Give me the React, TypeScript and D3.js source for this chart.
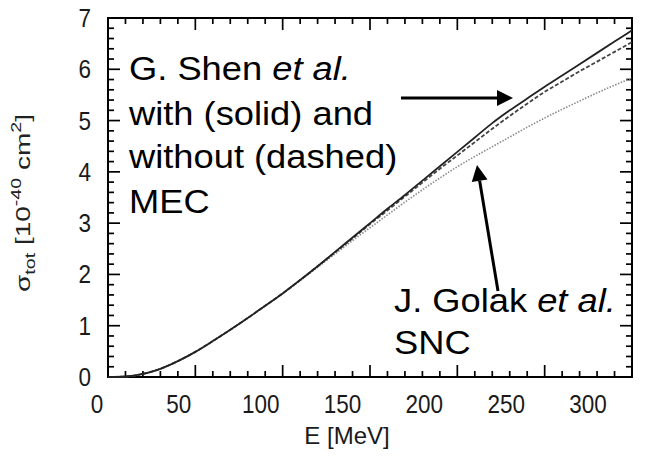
import React from "react";
import * as d3 from "d3";

const energies = [0,10,20,30,40,50,60,70,80,90,100,110,120,130,140,150,160,170,180,190,200,210,220,230,240,250,260,270,280,290,300];
const withMEC = [0,0.01,0.06,0.16,0.31,0.49,0.7,0.92,1.15,1.39,1.63,1.89,2.16,2.44,2.72,3.0,3.28,3.55,3.83,4.11,4.39,4.67,4.95,5.2,5.43,5.66,5.88,6.1,6.32,6.54,6.76];
const withoutMEC = [0,0.01,0.06,0.16,0.31,0.49,0.7,0.92,1.15,1.39,1.63,1.89,2.16,2.43,2.7,2.98,3.25,3.52,3.79,4.06,4.32,4.58,4.84,5.09,5.33,5.56,5.76,5.96,6.15,6.34,6.53];
const golakSNC = [0,0.01,0.06,0.16,0.31,0.49,0.7,0.92,1.15,1.39,1.63,1.88,2.14,2.4,2.66,2.91,3.16,3.41,3.65,3.88,4.1,4.3,4.49,4.68,4.87,5.05,5.22,5.38,5.54,5.69,5.83];

const xTickValues = [0,50,100,150,200,250,300];
const yTickValues = [0,1,2,3,4,5,6,7];

const W = 660, H = 458;
const L = 108, R = 632, T = 18, B = 377;
const FONT = "Liberation Sans, Arial, sans-serif";

export default function App() {
  const x = d3.scaleLinear().domain([0, 300]).range([L, R]);
  const xLab = d3.scaleLinear().domain([0, 300]).range([97, 588]);
  const y = d3.scaleLinear().domain([0, 7]).range([B, T]);

  const mk = (vals: number[]) =>
    d3.line<number>().x((_, i) => x(energies[i])).y((v) => y(v)).curve(d3.curveMonotoneX)(vals) || "";

  const xMinor = d3.range(0, 301, 10);
  const yMinor = d3.range(0, 36, 1).map((v) => v / 5);

  const arrowHead = (tail: number[], tip: number[], len: number, half: number) => {
    const dx = tip[0] - tail[0], dy = tip[1] - tail[1];
    const d = Math.hypot(dx, dy);
    const ux = dx / d, uy = dy / d;
    const bx = tip[0] - ux * len, by = tip[1] - uy * len;
    const px = -uy, py = ux;
    return {
      bx, by,
      pts: `${tip[0]},${tip[1]} ${bx + px * half},${by + py * half} ${bx - px * half},${by - py * half}`,
    };
  };
  const a1Tail = [401, 98], a1Tip = [513, 98];
  const a2Tail = [498, 291], a2Tip = [477, 165];
  const h1 = arrowHead(a1Tail, a1Tip, 16, 8);
  const h2 = arrowHead(a2Tail, a2Tip, 16, 8);

  const big = 33;
  const sx = 1.1;

  return (
    <svg width={W} height={H} style={{ position: "absolute", left: 0, top: 0 }}>
      <rect x={L} y={T} width={R - L} height={B - T} fill="none" stroke="#000" strokeWidth={2} />
      {xMinor.map((v) => {
        const len = v % 50 === 0 ? 12 : 6;
        return (
          <g key={"xt" + v}>
            <line x1={x(v)} x2={x(v)} y1={B} y2={B - len} stroke="#000" strokeWidth={1.7} />
            <line x1={x(v)} x2={x(v)} y1={T} y2={T + len} stroke="#000" strokeWidth={1.7} />
          </g>
        );
      })}
      {yMinor.map((v, i) => {
        const len = i % 5 === 0 ? 12 : 6;
        return (
          <g key={"yt" + i}>
            <line x1={L} x2={L + len} y1={y(v)} y2={y(v)} stroke="#000" strokeWidth={1.7} />
            <line x1={R} x2={R - len} y1={y(v)} y2={y(v)} stroke="#000" strokeWidth={1.7} />
          </g>
        );
      })}
      <path d={mk(golakSNC)} fill="none" stroke="#8a8a8a" strokeWidth={1.6} strokeDasharray="1.5,1.5" />
      <path d={mk(withoutMEC)} fill="none" stroke="#444444" strokeWidth={1.8} strokeDasharray="4,2" />
      <path d={mk(withMEC)} fill="none" stroke="#222222" strokeWidth={1.8} />
      {xTickValues.map((v) => (
        <g key={"xl" + v} transform={`translate(${xLab(v)},413) scale(0.9,1.05)`}>
          <text x={0} y={0} textAnchor="middle" fontSize={25} fill="#1a1a1a" fontFamily={FONT}>{v}</text>
        </g>
      ))}
      {yTickValues.map((v) => (
        <g key={"yl" + v} transform={`translate(91,${y(v) + 9}) scale(0.9,1.05)`}>
          <text x={0} y={0} textAnchor="end" fontSize={25} fill="#1a1a1a" fontFamily={FONT}>{v}</text>
        </g>
      ))}
      <text x={347} y={444} textAnchor="middle" fontSize={24} fill="#1a1a1a" fontFamily={FONT}>E [MeV]</text>
      <g transform="translate(30,203) rotate(-90) scale(1.4,1)">
        <text x={0} y={0} textAnchor="middle" fontSize={20} fill="#222222" fontFamily={FONT}>
          σ<tspan fontSize={14} dy={5}>tot</tspan>
          <tspan dy={-5}> [10</tspan>
          <tspan fontSize={14} dy={-9}>-40</tspan>
          <tspan dy={9}> cm</tspan>
          <tspan fontSize={14} dy={-9}>2</tspan>
          <tspan dy={9}>]</tspan>
        </text>
      </g>
      <g transform={`translate(129,0) scale(${sx},1)`}>
        <text x={0} y={80} fontSize={big} fill="#000" fontFamily={FONT}>G. Shen <tspan fontStyle="italic">et al.</tspan></text>
        <text x={0} y={125} fontSize={big} fill="#000" fontFamily={FONT}>with (solid) and</text>
        <text x={0} y={168} fontSize={big} fill="#000" fontFamily={FONT}>without (dashed)</text>
        <text x={0} y={213} fontSize={big} fill="#000" fontFamily={FONT}>MEC</text>
      </g>
      <g transform={`translate(394,0) scale(${sx},1)`}>
        <text x={0} y={312} fontSize={big} fill="#000" fontFamily={FONT}>J. Golak <tspan fontStyle="italic">et al.</tspan></text>
        <text x={0} y={354} fontSize={big} fill="#000" fontFamily={FONT}>SNC</text>
      </g>
      <line x1={a1Tail[0]} y1={a1Tail[1]} x2={h1.bx} y2={h1.by} stroke="#000" strokeWidth={3} />
      <polygon points={h1.pts} fill="#000" />
      <line x1={a2Tail[0]} y1={a2Tail[1]} x2={h2.bx} y2={h2.by} stroke="#000" strokeWidth={3} />
      <polygon points={h2.pts} fill="#000" />
    </svg>
  );
}
